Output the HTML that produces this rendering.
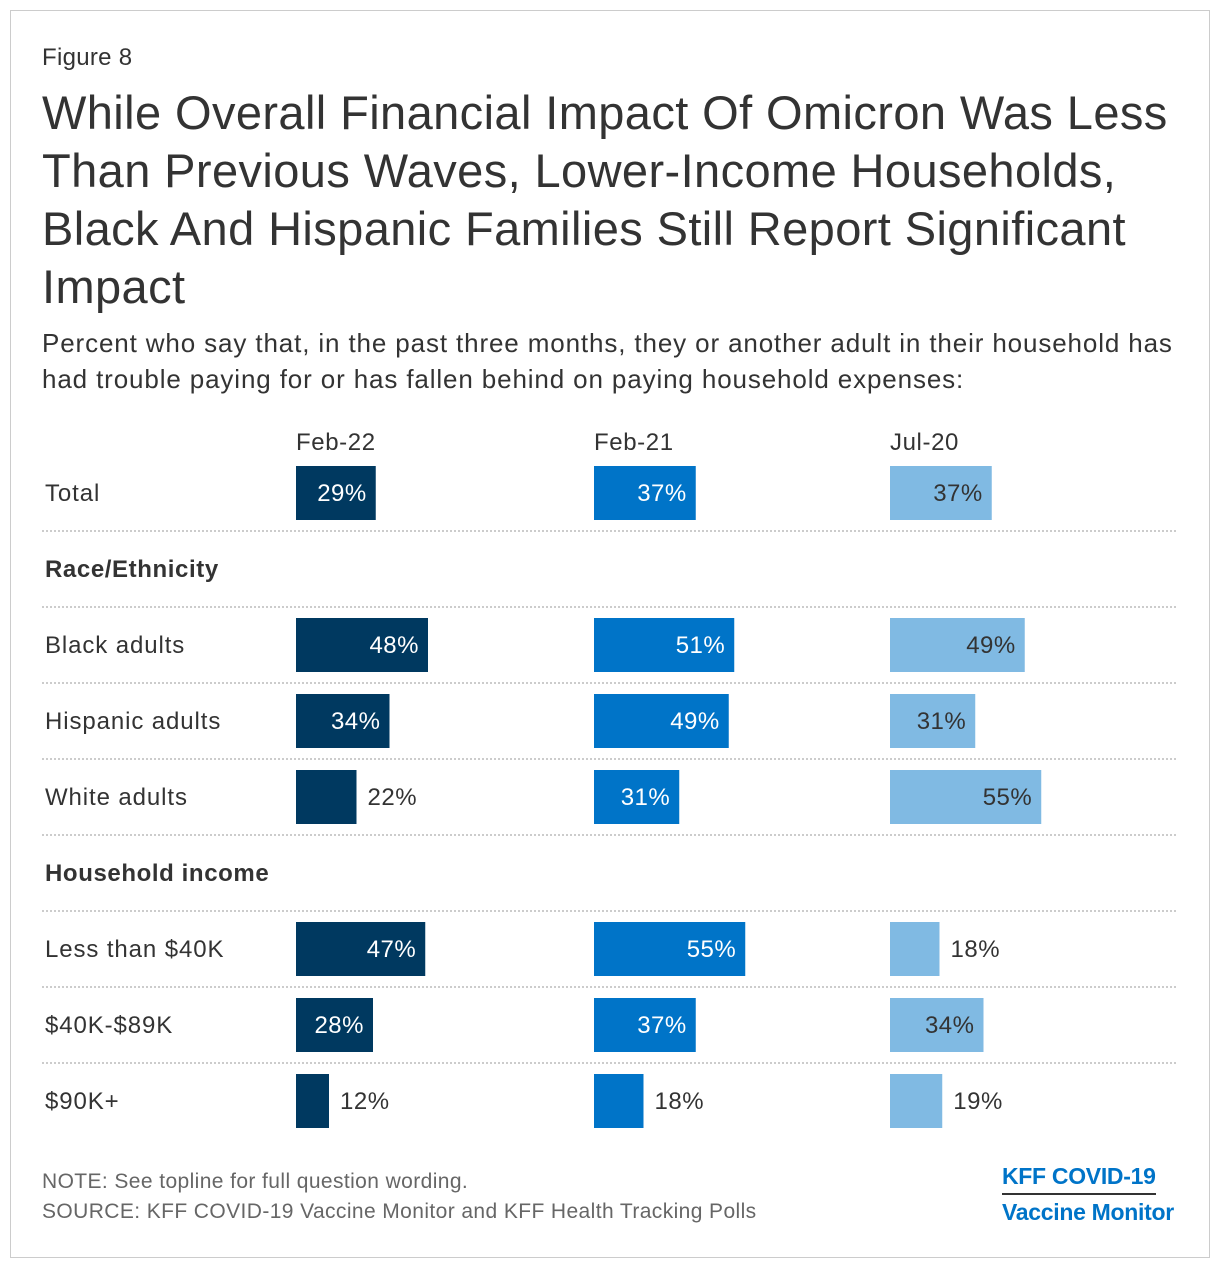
<!DOCTYPE html>
<html><head><meta charset="utf-8"><style>
body{margin:0;background:#fff;font-family:"Liberation Sans",Arial,sans-serif;color:#333}
#frame{position:absolute;left:10px;top:10px;width:1198px;height:1246px;border:1px solid #ccc}
.t{position:absolute;margin:0;white-space:nowrap}
</style></head><body>
<div id="frame"></div>
<div class="t" style="left:42px;top:44px;font-size:24px;letter-spacing:0.3px">Figure 8</div>
<div class="t" style="left:42px;top:84px;font-size:47px;letter-spacing:0.4px;line-height:58px">While Overall Financial Impact Of Omicron Was Less<br>Than Previous Waves, Lower-Income Households,<br>Black And Hispanic Families Still Report Significant<br>Impact</div>
<div class="t" style="left:42px;top:325px;font-size:26px;letter-spacing:0.87px;line-height:36px">Percent who say that, in the past three months, they or another adult in their household has<br>had trouble paying for or has fallen behind on paying household expenses:</div>
<svg id="chart" width="1220" height="1268" style="position:absolute;left:0;top:0" font-family="Liberation Sans, Arial, sans-serif"></svg>
<div class="t" style="left:42px;top:1170px;font-size:21px;letter-spacing:0.4px;color:#666">NOTE: See topline for full question wording.</div>
<div class="t" style="left:42px;top:1200px;font-size:21px;letter-spacing:0.4px;color:#666">SOURCE: KFF COVID-19 Vaccine Monitor and KFF Health Tracking Polls</div>
<div class="t" style="left:1002px;top:1163px;font-size:23px;font-weight:bold;color:#0074c8;border-bottom:2px solid #333;padding-bottom:3px;letter-spacing:-0.3px">KFF COVID-19</div>
<div class="t" style="left:1002px;top:1199px;font-size:23px;font-weight:bold;color:#0074c8;letter-spacing:-0.3px">Vaccine Monitor</div>
<script>
const series = ["Feb-22","Feb-21","Jul-20"];
const rows = ["Total","Black adults","Hispanic adults","White adults","Less than $40K","$40K-$89K","$90K+"];
const feb22 = [29,48,34,22,47,28,12];
const feb21 = [37,51,49,31,55,37,18];
const jul20 = [37,49,31,55,18,34,19];
const sections = ["Race/Ethnicity","Household income"];
const NS="http://www.w3.org/2000/svg";
const svg=document.getElementById('chart');
const colX=[296,594,890], colors=["#003960","#0074c8","#80bae3"], txtIn=["#fff","#fff","#333"];
const rowY=[493,645,721,797,949,1025,1101], secY=[569,873];
const sx=v=>v*2.75;
function mk(tag,a){const e=document.createElementNS(NS,tag);for(const k in a)e.setAttribute(k,a[k]);svg.appendChild(e);return e;}
series.forEach((s,i)=>{const t=mk('text',{x:colX[i],y:450,'font-size':24,'letter-spacing':0.6,fill:'#333'});t.textContent=s;

});
[531,607,683,759,835,911,987,1063].forEach(y=>{const l=mk('line',{x1:42,x2:1176,y1:y,y2:y,stroke:'#ccc','stroke-width':2,'stroke-dasharray':'2,2'});

});
sections.forEach((s,i)=>{const t=mk('text',{x:45,y:secY[i]+8,'font-size':24,'letter-spacing':0.6,'font-weight':'bold',fill:'#333'});t.textContent=s;

});
const data=[feb22,feb21,jul20];
rows.forEach((r,j)=>{
 const t=mk('text',{x:45,y:rowY[j]+8,'font-size':24,'letter-spacing':0.9,fill:'#333'});t.textContent=r;
 
 
 data.forEach((d,i)=>{
  const w=sx(d[j]);
  const b=mk('rect',{x:colX[i],y:rowY[j]-27,width:w,height:54,fill:colors[i]});
  
  
  const inside=d[j]>=25;
  const v=mk('text',{x:inside?colX[i]+w-9:colX[i]+w+11,y:rowY[j]+8,'font-size':24,'letter-spacing':0.5,'text-anchor':inside?'end':'start',fill:inside?txtIn[i]:'#333'});
  v.textContent=d[j]+'%';
  
  
 });
});
</script>
</body></html>
